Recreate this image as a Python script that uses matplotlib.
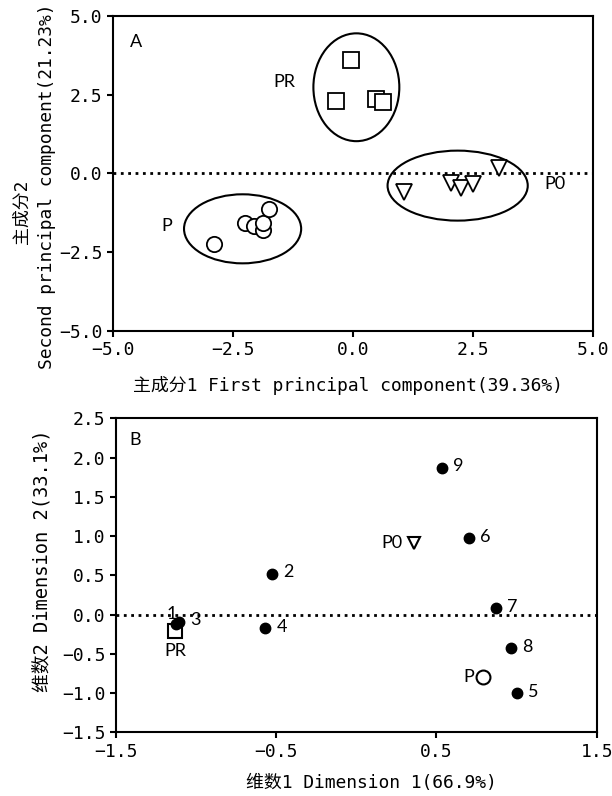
import matplotlib
matplotlib.use("Agg")
import matplotlib.pyplot as plt
from matplotlib.patches import Ellipse

# ---- 数据 (Panel A: PCA scores) ----
p_x = [-2.89, -2.24, -2.06, -1.87, -1.88, -1.74]
p_y = [-2.25, -1.59, -1.66, -1.80, -1.57, -1.13]
pr_x = [-0.04, -0.35, 0.47, 0.63]
pr_y = [3.60, 2.29, 2.37, 2.27]
po_x = [1.06, 2.04, 2.25, 2.51, 3.05]
po_y = [-0.58, -0.30, -0.48, -0.35, 0.16]

# 置信椭圆: (中心x, 中心y, 宽, 高)
ell_p = (-2.30, -1.76, 2.44, 2.19)
ell_pr = (0.07, 2.73, 1.79, 3.42)
ell_po = (2.18, -0.39, 2.92, 2.22)

# ---- 数据 (Panel B: correspondence analysis) ----
dim_labels = ["1", "2", "3", "4", "5", "6", "7", "8", "9"]
dim_x = [-1.123, -0.525, -1.104, -0.567, 1.00, 0.703, 0.87, 0.963, 0.536]
dim_y = [-0.12, 0.52, -0.09, -0.17, -1.00, 0.97, 0.08, -0.43, 1.87]
grp_pr = (-1.13, -0.205)
grp_po = (0.36, 0.91)
grp_p = (0.79, -0.79)

mono = ['DejaVu Sans Mono', 'Noto Sans CJK SC']
ann = ['Lato', 'DejaVu Sans']
plt.rcParams['font.family'] = mono

fig = plt.figure(figsize=(6.12, 7.96), dpi=100)

# 刻度标签: 一位小数, 负号用 "−"
fmt = matplotlib.ticker.FuncFormatter(lambda v, pos: ('%.1f' % v).replace('-', '\u2212'))

def style(ax):
    for s in ax.spines.values():
        s.set_linewidth(1.5)
    ax.tick_params(direction='out', length=4, width=1.5, labelsize=13,
                   top=False, right=False)
    ax.axhline(0, color='black', linestyle=':', linewidth=2, zorder=1)
    ax.xaxis.set_major_formatter(fmt)
    ax.yaxis.set_major_formatter(fmt)

# ===== A =====
ax1 = fig.add_axes([0.1846, 0.5842, 0.7844, 0.3961])
style(ax1)
for (cx, cy, w, h) in [ell_p, ell_pr, ell_po]:
    ax1.add_patch(Ellipse((cx, cy), w, h, fill=False, edgecolor='black', linewidth=1.5, zorder=2))
ax1.plot(p_x, p_y, 'o', ms=11, mfc='white', mec='black', mew=1.3, linestyle='none', zorder=3)
ax1.plot(pr_x, pr_y, 's', ms=11.5, mfc='white', mec='black', mew=1.3, linestyle='none', zorder=3)
ax1.plot(po_x, po_y, 'v', ms=11, mfc='white', mec='black', mew=1.3, linestyle='none', zorder=3)
ax1.set_xlim(-5, 5)
ax1.set_ylim(-5, 5)
ax1.set_xticks([-5, -2.5, 0, 2.5, 5])
ax1.set_yticks([-5, -2.5, 0, 2.5, 5])
ax1.text(-4.53, 4.18, "A", family=ann, fontsize=13, ha='center', va='center')
ax1.text(-1.43, 2.91, "PR", family=ann, fontsize=13, ha='center', va='center')
ax1.text(-3.88, -1.66, "P", family=ann, fontsize=13, ha='center', va='center')
ax1.text(4.21, -0.35, "P0", family=ann, fontsize=13, ha='center', va='center')

fig.text(0.5678, 0.5163, "主成分1 First principal component(39.36%)", fontsize=12.9,
         ha='center', va='center')
fig.text(0.0355, 0.7337, "主成分2", fontsize=12.9, rotation=90, ha='center', va='center')
fig.text(0.0776, 0.7657, "Second principal component(21.23%)", fontsize=12.9,
         rotation=90, ha='center', va='center')

# ===== B =====
ax2 = fig.add_axes([0.189, 0.080, 0.786, 0.3945])
style(ax2)
ax2.plot(dim_x, dim_y, 'o', ms=7.5, color='black', linestyle='none', zorder=3)
for lab, x, y in zip(dim_labels, dim_x, dim_y):
    if lab == "1":
        off = (-3, 7)
        ha = 'center'
    else:
        off = (8, 1)
        ha = 'left'
    ax2.annotate(lab, (x, y), xytext=off, textcoords='offset points',
                 family=ann, fontsize=13, ha=ha, va='center')
ax2.plot([grp_pr[0]], [grp_pr[1]], 's', ms=10, mfc='white', mec='black', mew=1.5, zorder=2)
ax2.annotate("PR", grp_pr, xytext=(0, -15), textcoords='offset points',
             family=ann, fontsize=13, ha='center', va='center')
ax2.plot([grp_po[0]], [grp_po[1]], 'v', ms=9, mfc='white', mec='black', mew=1.5, zorder=3)
ax2.annotate("P0", grp_po, xytext=(-16, 0), textcoords='offset points',
             family=ann, fontsize=13, ha='center', va='center')
ax2.plot([grp_p[0]], [grp_p[1]], 'o', ms=10, mfc='white', mec='black', mew=1.5, zorder=3)
ax2.annotate("P", grp_p, xytext=(-10, 0), textcoords='offset points',
             family=ann, fontsize=13, ha='center', va='center')
ax2.text(-1.38, 2.22, "B", family=ann, fontsize=13, ha='center', va='center')

ax2.set_xlim(-1.5, 1.5)
ax2.set_ylim(-1.5, 2.5)
ax2.set_xticks([-1.5, -0.5, 0.5, 1.5])
ax2.set_yticks([-1.5, -1.0, -0.5, 0, 0.5, 1.0, 1.5, 2.0, 2.5])

fig.text(0.6073, 0.0163, "维数1 Dimension 1(66.9%)", fontsize=12.9, ha='center', va='center')
fig.text(0.0686, 0.2952, "维数2 Dimension 2(33.1%)", fontsize=13.5, rotation=90,
         ha='center', va='center')

fig.savefig("out.png", dpi=100)
